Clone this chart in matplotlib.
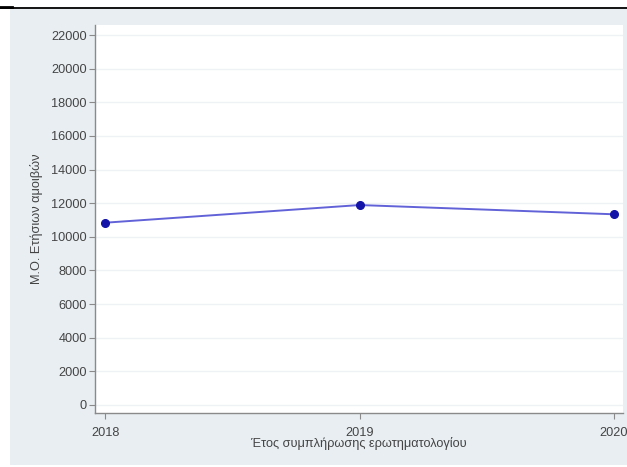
import matplotlib
matplotlib.use("Agg")
import matplotlib.pyplot as plt
from matplotlib.patches import Rectangle
from matplotlib.lines import Line2D

years = [2018, 2019, 2020]
mean_pay = [10840, 11890, 11340]
yticks = [0, 2000, 4000, 6000, 8000, 10000, 12000, 14000, 16000, 18000, 20000, 22000]
xlabel = "Έτος συμπλήρωσης ερωτηματολογίου"
ylabel = "Μ.Ο. Ετήσιων αμοιβών"

plt.rcParams['font.family'] = ['Liberation Sans', 'DejaVu Sans']

W, H = 627, 467
fig = plt.figure(figsize=(W / 100, H / 100), dpi=100)
fig.patch.set_facecolor("white")

# outer light gray-blue panel
fig.add_artist(Rectangle((10 / W, 1 - 465 / H), (627 - 10) / W, (465 - 9) / H,
                         transform=fig.transFigure, facecolor="#e8eef2",
                         edgecolor="none", zorder=-5))
# top black rule
fig.add_artist(Line2D([0, 1], [1 - 8 / H, 1 - 8 / H], transform=fig.transFigure,
                      color="black", linewidth=1.3, zorder=-4))
fig.add_artist(Line2D([0, 12 / W], [1 - 7 / H, 1 - 7 / H], transform=fig.transFigure,
                      color="black", linewidth=2.0, zorder=-4))

ax = fig.add_axes([95 / W, 1 - 413 / H, (623 - 95) / W, (413 - 25) / H])
ax.set_zorder(1)
ax.set_facecolor("white")

ax.plot(years, mean_pay, color="#6262d8", linewidth=1.4, zorder=3)
ax.plot(years, mean_pay, linestyle="none", marker="o", markersize=5.5,
        color="#1414a8", zorder=4)

ax.set_xlim(2017.96, 2020.035)
ax.set_ylim(-480, 22600)
ax.set_yticks(yticks)
ax.set_yticklabels([str(v) for v in yticks])
ax.set_xticks(years)
ax.set_xticklabels([str(y) for y in years])

ax.grid(axis="y", color="#eef2f4", linewidth=1.0)
ax.set_axisbelow(True)

for s in ["top", "right"]:
    ax.spines[s].set_visible(False)
for s in ["left", "bottom"]:
    ax.spines[s].set_color("#8a8a8a")
    ax.spines[s].set_linewidth(1.0)

fs = 9.2
ax.tick_params(axis="both", direction="out", length=4, width=0.8, color="#8a8a8a",
               labelsize=fs, labelcolor="#444444")
ax.tick_params(axis="y", pad=2)
ax.tick_params(axis="x", pad=6)

ax.set_xlabel(xlabel, fontsize=fs, color="#444444", labelpad=-1)
ax.set_ylabel(ylabel, fontsize=fs, color="#444444", labelpad=6)

fig.savefig("out.png", dpi=100, facecolor=fig.get_facecolor())
